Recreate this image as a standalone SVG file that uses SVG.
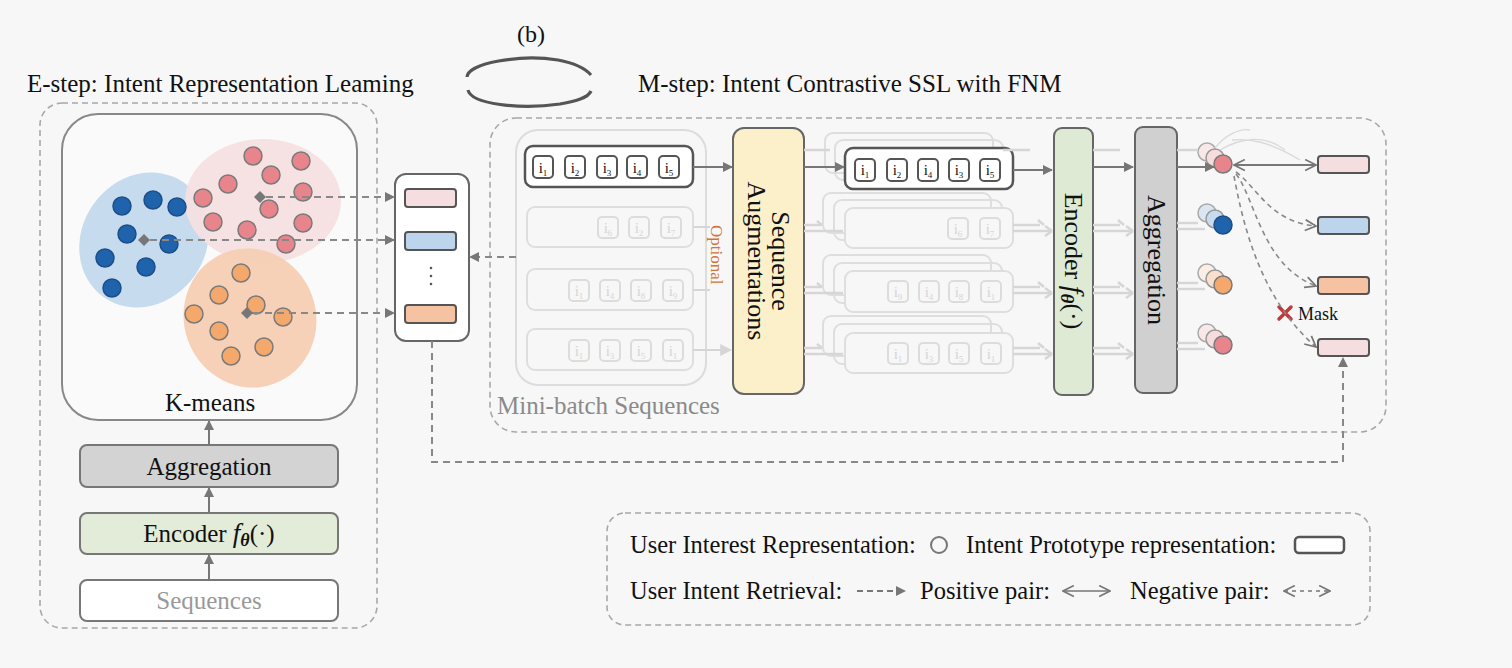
<svg xmlns="http://www.w3.org/2000/svg" width="1512" height="668" viewBox="0 0 1512 668">
<defs>
<style>
text{font-family:"Liberation Serif","Times New Roman",serif;fill:#111}
.title{font-size:25px}
.dashbox{fill:none;stroke:#a8a8a8;stroke-width:1.6;stroke-dasharray:6 4}
.conn{fill:none;stroke:#777;stroke-width:2}
.dconn{fill:none;stroke:#888;stroke-width:2;stroke-dasharray:7 5}
.ghost{fill:none;stroke:#d6d6d6;stroke-width:2.5}
.item{fill:#fff;stroke:#555;stroke-width:2}
.itemL{fill:none;stroke:#dcdcdc;stroke-width:2}
.it{font-size:15px;text-anchor:middle}
.itL{font-size:15px;text-anchor:middle;fill:#d6d6d6}
.rowD{fill:#fff;stroke:#555;stroke-width:2.5}
.rowL{fill:none;stroke:#dedede;stroke-width:2}
.proto{stroke:#555;stroke-width:2}
.pk{fill:#f6dde0}.bl{fill:#bcd4ec}.or{fill:#f5c3a1}
.dp{fill:#e8858c;stroke:#7a7a7a;stroke-width:1.5}
.db{fill:#1f63ad;stroke:#1c4f88;stroke-width:1.5}
.do{fill:#f4a86c;stroke:#7a7a7a;stroke-width:1.5}
.leg{font-size:24.5px}
.box{font-size:25px;text-anchor:middle}
</style>
<marker id="ah" viewBox="0 0 10 10" refX="9" refY="5" markerWidth="10" markerHeight="10" markerUnits="userSpaceOnUse" orient="auto"><path d="M0,0 L10,5 L0,10 z" fill="#777"/></marker>
<marker id="ahL" viewBox="0 0 10 10" refX="9" refY="5" markerWidth="12" markerHeight="12" markerUnits="userSpaceOnUse" orient="auto"><path d="M0,0 L10,5 L0,10 z" fill="#d6d6d6"/></marker>
<marker id="chev" viewBox="0 0 12 12" refX="11" refY="6" markerWidth="13" markerHeight="13" markerUnits="userSpaceOnUse" orient="auto-start-reverse"><path d="M1,1 L11,6 L1,11" fill="none" stroke="#777" stroke-width="1.6"/></marker>
</defs>
<rect width="1512" height="668" fill="#f7f7f7"/>

<g id="titles">
<text x="531" y="42" font-size="24" text-anchor="middle">(b)</text>
<text x="27" y="92" class="title">E-step: Intent Representation Leaming</text>
<text x="638" y="92" class="title">M-step: Intent Contrastive SSL with FNM</text>
<path d="M467,77 C468,63 520,54 558,60 C574,63 584,67 591,75" fill="none" stroke="#555" stroke-width="3.2"/>
<path d="M468,90 C471,104 520,110 560,104 C576,101 588,98 591,91" fill="none" stroke="#555" stroke-width="3.2"/>
</g>

<g id="estep">
<rect x="40" y="103" width="337" height="525" rx="22" class="dashbox"/>
</g>

<g id="kmeans">
<rect x="62" y="114" width="295" height="306" rx="36" fill="#fafafa" stroke="#888" stroke-width="2"/>
<ellipse cx="144" cy="240" rx="62" ry="70" transform="rotate(35 144 240)" fill="#c6dbee"/>
<ellipse cx="263" cy="201" rx="78" ry="62" fill="#f5e0e0" opacity="0.95"/>
<ellipse cx="250" cy="318" rx="66" ry="70" transform="rotate(-20 250 318)" fill="#f6cfb3" opacity="0.95"/>
<g>
<circle cx="122" cy="206" r="9" class="db"/><circle cx="153" cy="200" r="9" class="db"/><circle cx="177" cy="207" r="9" class="db"/>
<circle cx="127" cy="234" r="9" class="db"/><circle cx="169" cy="244" r="9" class="db"/><circle cx="105" cy="258" r="9" class="db"/>
<circle cx="146" cy="267" r="9" class="db"/><circle cx="112" cy="288" r="9" class="db"/>
</g>
<g>
<circle cx="253" cy="156" r="9" class="dp"/><circle cx="301" cy="161" r="9" class="dp"/><circle cx="271" cy="175" r="9" class="dp"/>
<circle cx="228" cy="184" r="9" class="dp"/><circle cx="303" cy="192" r="9" class="dp"/><circle cx="203" cy="198" r="9" class="dp"/>
<circle cx="269" cy="209" r="9" class="dp"/><circle cx="213" cy="222" r="9" class="dp"/><circle cx="247" cy="230" r="9" class="dp"/>
<circle cx="303" cy="223" r="9" class="dp"/><circle cx="286" cy="244" r="9" class="dp"/>
</g>
<g>
<circle cx="241" cy="273" r="9" class="do"/><circle cx="219" cy="295" r="9" class="do"/><circle cx="256" cy="305" r="9" class="do"/>
<circle cx="194" cy="314" r="9" class="do"/><circle cx="283" cy="317" r="9" class="do"/><circle cx="219" cy="331" r="9" class="do"/>
<circle cx="264" cy="347" r="9" class="do"/><circle cx="231" cy="356" r="9" class="do"/>
</g>
<path d="M260,191 L266,197 L260,203 L254,197 z" fill="#777"/>
<path d="M144,234 L150,240 L144,246 L138,240 z" fill="#777"/>
<path d="M247,307 L253,313 L247,319 L241,313 z" fill="#777"/>
<text x="210" y="411" class="box">K-means</text>
</g>

<g id="agg-left">
<rect x="80" y="445" width="258" height="42" rx="7" fill="#d3d3d3" stroke="#777" stroke-width="2"/>
<text x="209" y="475" class="box">Aggregation</text>
</g>
<g id="enc-left">
<rect x="80" y="513" width="258" height="41" rx="7" fill="#e3ecd8" stroke="#777" stroke-width="2"/>
<text x="209" y="542" class="box">Encoder <tspan font-style="italic" font-size="27">f</tspan><tspan font-style="italic" font-weight="bold" font-size="18" dy="4">θ</tspan><tspan dy="-4">(·)</tspan></text>
</g>
<g id="seq-left">
<rect x="80" y="580" width="258" height="41" rx="7" fill="#fff" stroke="#777" stroke-width="2"/>
<text x="209" y="609" class="box" style="fill:#999">Sequences</text>
</g>

<g id="prototypes">
<rect x="395" y="174" width="74" height="167" rx="11" fill="#fff" stroke="#666" stroke-width="2"/>
<rect x="405" y="189" width="51" height="18" rx="3" class="proto pk"/>
<rect x="405" y="232" width="51" height="18" rx="3" class="proto bl"/>
<rect x="405" y="305" width="51" height="18" rx="3" class="proto or"/>
<circle cx="431" cy="268" r="1.3" fill="#555"/><circle cx="431" cy="276" r="1.3" fill="#555"/><circle cx="431" cy="284" r="1.3" fill="#555"/>
</g>

<g id="mstep">
<rect x="490" y="118" width="896" height="314" rx="26" class="dashbox"/>
</g>

<g id="minibatch">
<rect x="516" y="130" width="190" height="255" rx="22" fill="none" stroke="#dcdcdc" stroke-width="2"/>
<text x="497" y="414" font-size="25" style="fill:#8a8a8a">Mini-batch Sequences</text>
<rect x="525" y="146" width="168" height="41" rx="8" class="rowD"/>
<g>
<rect x="533" y="156" width="20" height="22" rx="4" class="item"/><text x="543" y="173" class="it">i<tspan font-size="9" dy="3">1</tspan></text>
<rect x="565" y="156" width="20" height="22" rx="4" class="item"/><text x="575" y="173" class="it">i<tspan font-size="9" dy="3">2</tspan></text>
<rect x="597" y="156" width="20" height="22" rx="4" class="item"/><text x="607" y="173" class="it">i<tspan font-size="9" dy="3">3</tspan></text>
<rect x="627" y="156" width="20" height="22" rx="4" class="item"/><text x="637" y="173" class="it">i<tspan font-size="9" dy="3">4</tspan></text>
<rect x="659" y="156" width="20" height="22" rx="4" class="item"/><text x="669" y="173" class="it">i<tspan font-size="9" dy="3">5</tspan></text>
</g>
<rect x="527" y="207" width="166" height="40" rx="8" class="rowL"/>
<rect x="598" y="217" width="20" height="21" rx="4" class="itemL"/><text x="608" y="233" class="itL">i<tspan font-size="9" dy="3">6</tspan></text>
<rect x="629" y="217" width="20" height="21" rx="4" class="itemL"/><text x="639" y="233" class="itL">i<tspan font-size="9" dy="3">2</tspan></text>
<rect x="661" y="217" width="20" height="21" rx="4" class="itemL"/><text x="671" y="233" class="itL">i<tspan font-size="9" dy="3">7</tspan></text>
<rect x="527" y="269" width="166" height="41" rx="8" class="rowL"/>
<rect x="569" y="280" width="20" height="21" rx="4" class="itemL"/><text x="579" y="296" class="itL">i<tspan font-size="9" dy="3">1</tspan></text>
<rect x="600" y="280" width="20" height="21" rx="4" class="itemL"/><text x="610" y="296" class="itL">i<tspan font-size="9" dy="3">4</tspan></text>
<rect x="631" y="280" width="20" height="21" rx="4" class="itemL"/><text x="641" y="296" class="itL">i<tspan font-size="9" dy="3">8</tspan></text>
<rect x="663" y="280" width="20" height="21" rx="4" class="itemL"/><text x="673" y="296" class="itL">i<tspan font-size="9" dy="3">9</tspan></text>
<rect x="527" y="329" width="166" height="41" rx="8" class="rowL"/>
<rect x="569" y="340" width="20" height="21" rx="4" class="itemL"/><text x="579" y="356" class="itL">i<tspan font-size="9" dy="3">1</tspan></text>
<rect x="600" y="340" width="20" height="21" rx="4" class="itemL"/><text x="610" y="356" class="itL">i<tspan font-size="9" dy="3">3</tspan></text>
<rect x="631" y="340" width="20" height="21" rx="4" class="itemL"/><text x="641" y="356" class="itL">i<tspan font-size="9" dy="3">5</tspan></text>
<rect x="663" y="340" width="20" height="21" rx="4" class="itemL"/><text x="673" y="356" class="itL">i<tspan font-size="9" dy="3">1</tspan></text>
<text transform="translate(711,225) rotate(90)" font-size="17" style="fill:#d2743a">Optional</text>
</g>

<g id="seq-aug">
<rect x="733" y="128" width="71" height="266" rx="11" fill="#fbf0c9" stroke="#666" stroke-width="2"/>
<text transform="translate(768,261) rotate(90)" font-size="26" text-anchor="middle"><tspan x="0" y="-4">Sequence</tspan><tspan x="0" y="20">Augmentations</tspan></text>
</g>

<g id="augmented">
<rect x="825" y="133" width="168" height="40" rx="8" class="rowL" stroke="#e6e6e6"/>
<rect x="835" y="140" width="168" height="40" rx="8" class="rowL" stroke="#e6e6e6"/>
<rect x="845" y="148" width="168" height="41" rx="8" class="rowD"/>
<rect x="855" y="159" width="20" height="22" rx="4" class="item"/><text x="865" y="175" class="it">i<tspan font-size="9" dy="3">1</tspan></text>
<rect x="887" y="159" width="20" height="22" rx="4" class="item"/><text x="897" y="175" class="it">i<tspan font-size="9" dy="3">2</tspan></text>
<rect x="918" y="159" width="20" height="22" rx="4" class="item"/><text x="928" y="175" class="it">i<tspan font-size="9" dy="3">4</tspan></text>
<rect x="949" y="159" width="20" height="22" rx="4" class="item"/><text x="959" y="175" class="it">i<tspan font-size="9" dy="3">3</tspan></text>
<rect x="980" y="159" width="20" height="22" rx="4" class="item"/><text x="990" y="175" class="it">i<tspan font-size="9" dy="3">5</tspan></text>
<rect x="823" y="193" width="168" height="40" rx="8" class="rowL"/>
<rect x="834" y="200" width="168" height="40" rx="8" class="rowL"/>
<rect x="845" y="208" width="168" height="40" rx="8" fill="#f7f7f7" stroke="#dedede" stroke-width="2"/>
<rect x="948" y="218" width="20" height="21" rx="4" class="itemL"/><text x="958" y="234" class="itL">i<tspan font-size="9" dy="3">6</tspan></text>
<rect x="980" y="218" width="20" height="21" rx="4" class="itemL"/><text x="990" y="234" class="itL">i<tspan font-size="9" dy="3">7</tspan></text>
<rect x="823" y="255" width="168" height="40" rx="8" class="rowL"/>
<rect x="834" y="263" width="168" height="40" rx="8" class="rowL"/>
<rect x="845" y="271" width="168" height="41" rx="8" fill="#f7f7f7" stroke="#dedede" stroke-width="2"/>
<rect x="888" y="281" width="20" height="21" rx="4" class="itemL"/><text x="898" y="297" class="itL">i<tspan font-size="9" dy="3">9</tspan></text>
<rect x="919" y="281" width="20" height="21" rx="4" class="itemL"/><text x="929" y="297" class="itL">i<tspan font-size="9" dy="3">4</tspan></text>
<rect x="949" y="281" width="20" height="21" rx="4" class="itemL"/><text x="959" y="297" class="itL">i<tspan font-size="9" dy="3">8</tspan></text>
<rect x="981" y="281" width="20" height="21" rx="4" class="itemL"/><text x="991" y="297" class="itL">i<tspan font-size="9" dy="3">1</tspan></text>
<rect x="823" y="316" width="168" height="40" rx="8" class="rowL"/>
<rect x="834" y="324" width="168" height="40" rx="8" class="rowL"/>
<rect x="845" y="333" width="168" height="40" rx="8" fill="#f7f7f7" stroke="#dedede" stroke-width="2"/>
<rect x="888" y="343" width="20" height="21" rx="4" class="itemL"/><text x="898" y="359" class="itL">i<tspan font-size="9" dy="3">1</tspan></text>
<rect x="919" y="343" width="20" height="21" rx="4" class="itemL"/><text x="929" y="359" class="itL">i<tspan font-size="9" dy="3">3</tspan></text>
<rect x="949" y="343" width="20" height="21" rx="4" class="itemL"/><text x="959" y="359" class="itL">i<tspan font-size="9" dy="3">5</tspan></text>
<rect x="981" y="343" width="20" height="21" rx="4" class="itemL"/><text x="991" y="359" class="itL">i<tspan font-size="9" dy="3">1</tspan></text>
</g>

<g id="encoder-right">
<rect x="1054" y="128" width="39" height="267" rx="8" fill="#dfead5" stroke="#666" stroke-width="2"/>
<text transform="translate(1065,261) rotate(90)" font-size="26" text-anchor="middle">Encoder <tspan font-style="italic" font-size="28">f</tspan><tspan font-style="italic" font-weight="bold" font-size="19" dy="4">θ</tspan><tspan dy="-4">(·)</tspan></text>
</g>

<g id="aggregation-right">
<rect x="1135" y="127" width="42" height="266" rx="8" fill="#d0d0d0" stroke="#666" stroke-width="2"/>
<text transform="translate(1148,260) rotate(90)" font-size="26" text-anchor="middle">Aggregation</text>
</g>

<g id="user-reps">
<circle cx="1207" cy="152" r="9" fill="#f8e8e8" stroke="#aaa" stroke-width="1.5"/>
<circle cx="1215" cy="158" r="9" fill="#f6dcdc" stroke="#999" stroke-width="1.5"/>
<circle cx="1223" cy="164" r="9" class="dp"/>
<circle cx="1207" cy="213" r="9" fill="#dbe6f2" stroke="#aaa" stroke-width="1.5"/>
<circle cx="1215" cy="219" r="9" fill="#c8dbef" stroke="#999" stroke-width="1.5"/>
<circle cx="1223" cy="225" r="9" class="db"/>
<circle cx="1207" cy="273" r="9" fill="#fbeee4" stroke="#aaa" stroke-width="1.5"/>
<circle cx="1215" cy="279" r="9" fill="#f9dfcc" stroke="#999" stroke-width="1.5"/>
<circle cx="1223" cy="285" r="9" class="do"/>
<circle cx="1207" cy="333" r="9" fill="#f8e8e8" stroke="#aaa" stroke-width="1.5"/>
<circle cx="1215" cy="339" r="9" fill="#f6dcdc" stroke="#999" stroke-width="1.5"/>
<circle cx="1223" cy="345" r="9" class="dp"/>
</g>

<g id="prototypes-right">
<rect x="1318" y="156" width="51" height="17" rx="3" class="proto pk"/>
<rect x="1318" y="217" width="51" height="17" rx="3" class="proto bl"/>
<rect x="1318" y="277" width="51" height="17" rx="3" class="proto or"/>
<rect x="1318" y="339" width="51" height="17" rx="3" class="proto pk"/>
<path d="M1279,307 L1291,319 M1291,307 L1279,319" stroke="#c0393b" stroke-width="3.5" stroke-linecap="round"/>
<text x="1298" y="320" font-size="18">Mask</text>
</g>

<g id="connectors">
<line x1="209" y1="580" x2="209" y2="555" class="conn" marker-end="url(#ah)"/>
<line x1="209" y1="513" x2="209" y2="488" class="conn" marker-end="url(#ah)"/>
<line x1="209" y1="445" x2="209" y2="421" class="conn" marker-end="url(#ah)"/>
<line x1="266" y1="197" x2="394" y2="197" class="dconn" marker-end="url(#ah)"/>
<line x1="150" y1="240" x2="394" y2="240" class="dconn" marker-end="url(#ah)"/>
<line x1="253" y1="313" x2="394" y2="313" class="dconn" marker-end="url(#ah)"/>
<line x1="516" y1="257" x2="470" y2="257" class="dconn" marker-end="url(#ah)"/>
<path d="M432,341 V462 H1343 V358" class="dconn" marker-end="url(#ah)"/>
<line x1="693" y1="167" x2="732" y2="167" class="conn" marker-end="url(#ah)"/>
<line x1="693" y1="227" x2="710" y2="227" stroke="#d6d6d6" stroke-width="2"/>
<line x1="693" y1="290" x2="710" y2="290" stroke="#d6d6d6" stroke-width="2"/>
<line x1="693" y1="350" x2="731" y2="350" stroke="#d6d6d6" stroke-width="2" marker-end="url(#ahL)"/>
<line x1="804" y1="167" x2="844" y2="167" class="conn" marker-end="url(#ah)"/>
<path d="M804,150 H830 M804,225 H822 M804,231 H843 M804,287 H822 M804,293 H843 M804,348 H822 M804,354 H843" class="ghost"/>
<path d="M822,225 l-5,-4 M822,287 l-5,-4 M822,348 l-5,-4" class="ghost"/>
<line x1="1013" y1="170" x2="1052" y2="170" class="conn" marker-end="url(#ah)"/>
<path d="M1003,150 H1030 M1013,225 H1040 M1013,231 H1052 M1013,287 H1040 M1013,293 H1052 M1013,348 H1040 M1013,354 H1052" class="ghost"/>
<path d="M1044,225 l-6,-5 M1044,287 l-6,-5 M1044,348 l-6,-5 M1052,231 l-7,-5 M1052,231 l-7,5 M1052,293 l-7,-5 M1052,293 l-7,5 M1052,354 l-7,-5 M1052,354 l-7,5" class="ghost"/>
<line x1="1093" y1="167" x2="1133" y2="167" class="conn" marker-end="url(#ah)"/>
<path d="M1093,150 H1120 M1093,225 H1120 M1093,231 H1133 M1093,287 H1120 M1093,293 H1133 M1093,348 H1120 M1093,354 H1133" class="ghost"/>
<path d="M1124,225 l-6,-5 M1124,287 l-6,-5 M1124,348 l-6,-5 M1133,231 l-7,-5 M1133,231 l-7,5 M1133,293 l-7,-5 M1133,293 l-7,5 M1133,354 l-7,-5 M1133,354 l-7,5" class="ghost"/>
<line x1="1177" y1="167" x2="1214" y2="167" class="conn" marker-end="url(#ah)"/>
<path d="M1177,150 H1198 M1177,223 H1198 M1177,229 H1205 M1177,283 H1198 M1177,289 H1205 M1177,343 H1198 M1177,349 H1205" class="ghost"/>
<path d="M1215,148 C1225,135 1240,128 1250,130 M1220,150 C1240,138 1265,134 1285,150 M1232,140 C1250,138 1270,142 1300,160" fill="none" stroke="#dadada" stroke-width="1.3"/>
<line x1="1234" y1="165" x2="1316" y2="165" stroke="#777" stroke-width="2" marker-start="url(#chev)" marker-end="url(#chev)"/>
<path d="M1236,172 C1258,188 1270,222 1316,226" fill="none" stroke="#888" stroke-width="1.6" stroke-dasharray="5 4" marker-end="url(#chev)"/>
<path d="M1236,174 C1255,198 1262,266 1316,286" fill="none" stroke="#888" stroke-width="1.6" stroke-dasharray="5 4" marker-end="url(#chev)"/>
<path d="M1234,176 C1244,230 1262,300 1316,347" fill="none" stroke="#888" stroke-width="1.6" stroke-dasharray="5 4" marker-end="url(#chev)"/>
</g>

<g id="legend">
<rect x="607" y="513" width="763" height="112" rx="18" class="dashbox"/>
<text x="630" y="553" class="leg">User Interest Representation:</text>
<circle cx="939" cy="545" r="8" fill="none" stroke="#777" stroke-width="2"/>
<text x="966" y="553" class="leg">Intent Prototype representation:</text>
<rect x="1295" y="537" width="49" height="16" rx="4" fill="#fff" stroke="#555" stroke-width="2.5"/>
<text x="630" y="599" class="leg">User Intent Retrieval:</text>
<line x1="857" y1="591" x2="905" y2="591" stroke="#777" stroke-width="2" stroke-dasharray="6 4" marker-end="url(#ah)"/>
<text x="920" y="599" class="leg">Positive pair:</text>
<line x1="1063" y1="591" x2="1110" y2="591" stroke="#777" stroke-width="1.6" marker-start="url(#chev)" marker-end="url(#chev)"/>
<text x="1130" y="599" class="leg">Negative pair:</text>
<line x1="1284" y1="591" x2="1330" y2="591" stroke="#777" stroke-width="1.6" stroke-dasharray="4 4" marker-start="url(#chev)" marker-end="url(#chev)"/>
</g>
</svg>
